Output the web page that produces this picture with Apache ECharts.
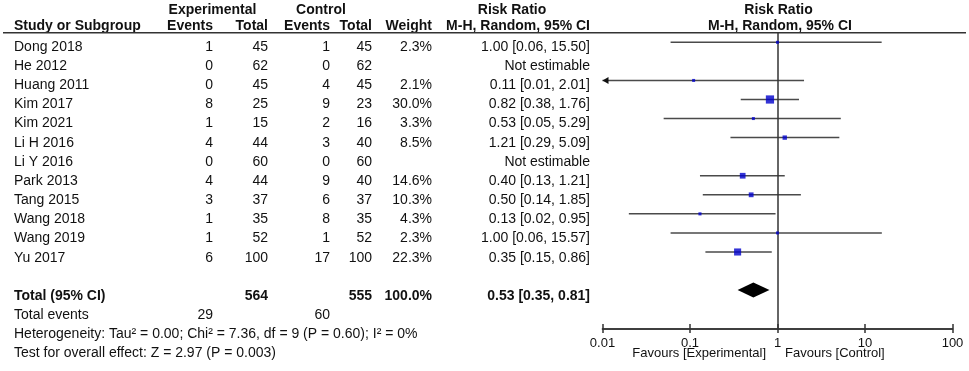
<!DOCTYPE html>
<html>
<head>
<meta charset="utf-8">
<script src="https://cdn.jsdelivr.net/npm/echarts@6/dist/echarts.min.js"></script>
<style>
html,body{margin:0;padding:0;background:#fff}
#forest{width:969px;height:371px}
</style>
</head>
<body>
<div id="forest"></div>
<script>
var studies = ['Dong 2018','He 2012','Huang 2011','Kim 2017','Kim 2021','Li H 2016','Li Y 2016','Park 2013','Tang 2015','Wang 2018','Wang 2019','Yu 2017']
var expEvents = [1,0,0,8,1,4,0,4,3,1,1,6]
var expTotal = [45,62,45,25,15,44,60,44,37,35,52,100]
var ctlEvents = [1,0,4,9,2,3,0,9,6,8,1,17]
var ctlTotal = [45,62,45,23,16,40,60,40,37,35,52,100]
var weights = [2.3,null,2.1,30.0,3.3,8.5,null,14.6,10.3,4.3,2.3,22.3]
var rr = [1.00,null,0.11,0.82,0.53,1.21,null,0.40,0.50,0.13,1.00,0.35]
var ciLow = [0.06,null,0.01,0.38,0.05,0.29,null,0.13,0.14,0.02,0.06,0.15]
var ciHigh = [15.50,null,2.01,1.76,5.29,5.09,null,1.21,1.85,0.95,15.57,0.86]

var totalExp = 564, totalCtl = 555, totalWeight = 100.0
var eventsExp = 29, eventsCtl = 60
var pooled = [0.35, 0.53, 0.81]
var heterogeneity = 'Heterogeneity: Tau\u00b2 = 0.00; Chi\u00b2 = 7.36, df = 9 (P = 0.60); I\u00b2 = 0%'
var overallTest = 'Test for overall effect: Z = 2.97 (P = 0.003)'
var tickLabels = ['0.01','0.1','1','10','100']
var favours = ['Favours [Experimental]', 'Favours [Control]']

var FONT = '"Liberation Sans", Arial, sans-serif'
var TXT = '#111'

// column anchors inside the table grid
var colStudy = 14, colExpEv = 213, colExpTot = 268, colCtlEv = 330, colCtlTot = 372, colWeight = 432, colCI = 590

function fmtCI(e, lo, hi){ return e.toFixed(2) + ' [' + lo.toFixed(2) + ', ' + hi.toFixed(2) + ']' }

var cells = []
function cell(x, r, text, align, bold, size){
    cells.push({value:[x, r], text:String(text), align:align || 'right', bold:!!bold, size:size || 14})
}

// header
cell(212.5, -1.95, 'Experimental', 'center', true)
cell(321, -1.95, 'Control', 'center', true)
cell(512, -1.95, 'Risk Ratio', 'center', true)
cell(778.5, -1.95, 'Risk Ratio', 'center', true)
cell(colStudy, -1.1, 'Study or Subgroup', 'left', true)
cell(colExpEv, -1.1, 'Events', 'right', true)
cell(colExpTot, -1.1, 'Total', 'right', true)
cell(colCtlEv, -1.1, 'Events', 'right', true)
cell(colCtlTot, -1.1, 'Total', 'right', true)
cell(colWeight, -1.1, 'Weight', 'right', true)
cell(colCI, -1.1, 'M-H, Random, 95% CI', 'right', true)
cell(780, -1.1, 'M-H, Random, 95% CI', 'center', true)

studies.forEach(function(name, i){
    cell(colStudy, i, name, 'left')
    cell(colExpEv, i, expEvents[i])
    cell(colExpTot, i, expTotal[i])
    cell(colCtlEv, i, ctlEvents[i])
    cell(colCtlTot, i, ctlTotal[i])
    if (weights[i] != null) cell(colWeight, i, weights[i].toFixed(1) + '%')
    cell(colCI, i, rr[i] == null ? 'Not estimable' : fmtCI(rr[i], ciLow[i], ciHigh[i]))
})

var rTotal = studies.length + 1
cell(colStudy, rTotal, 'Total (95% CI)', 'left', true)
cell(colExpTot, rTotal, totalExp, 'right', true)
cell(colCtlTot, rTotal, totalCtl, 'right', true)
cell(colWeight, rTotal, totalWeight.toFixed(1) + '%', 'right', true)
cell(colCI, rTotal, fmtCI(pooled[1], pooled[0], pooled[2]), 'right', true)
cell(colStudy, rTotal + 1, 'Total events', 'left')
cell(colExpEv, rTotal + 1, eventsExp)
cell(colCtlEv, rTotal + 1, eventsCtl)
cell(colStudy, rTotal + 2, heterogeneity, 'left')
cell(colStudy, rTotal + 3, overallTest, 'left')
cell(766, rTotal + 3, favours[0], 'right', false, 13)
cell(785, rTotal + 3, favours[1], 'left', false, 13)

var whiskers = [], boxes = []
studies.forEach(function(name, i){
    if (rr[i] == null) return
    whiskers.push([ciLow[i], ciHigh[i], i])
    boxes.push([rr[i], i, weights[i]])
})

var logAxis = {
    gridIndex:1, type:'log', logBase:10, min:0.01, max:100, position:'bottom',
    axisLine:{show:true, onZero:false, lineStyle:{color:'#333', width:1.5}},
    splitLine:{show:false}
}

var myChart = echarts.init(document.getElementById('forest'))
myChart.setOption({
    animation:false,
    backgroundColor:'#fff',
    grid:[
        {left:0, top:0, width:969, height:371},
        {left:602.5, top:33, width:350, height:296}
    ],
    xAxis:[
        {gridIndex:0, type:'value', min:0, max:969, show:false},
        echarts.util.merge({
            axisTick:{show:true, inside:true, length:5, lineStyle:{color:'#333', width:1.5}},
            axisLabel:{margin:8, fontSize:13, fontFamily:FONT, color:TXT,
                formatter:function(v){ return tickLabels[Math.round(Math.log10(v)) + 2] }}
        }, logAxis, true),
        echarts.util.merge({
            axisTick:{show:true, inside:false, length:4, lineStyle:{color:'#333', width:1.5}},
            axisLabel:{show:false}
        }, logAxis, true)
    ],
    yAxis:[
        {gridIndex:0, type:'value', inverse:true, min:-2.454, max:16.919, show:false},
        {gridIndex:1, type:'value', inverse:true, min:-0.488, max:15.04, show:false}
    ],
    series:[
        {
            // table text
            type:'custom', xAxisIndex:0, yAxisIndex:0, clip:false, silent:true,
            data:cells,
            renderItem:function(params, api){
                var c = cells[params.dataIndex]
                var p = api.coord(c.value)
                return {type:'text', x:p[0], y:p[1], style:{
                    text:c.text, fill:TXT, align:c.align, verticalAlign:'middle',
                    font:(c.bold ? 'bold ' : '') + c.size + 'px ' + FONT
                }}
            }
        },
        {
            // header rule
            type:'custom', xAxisIndex:0, yAxisIndex:0, clip:false, silent:true,
            data:[[3, 966, -0.75]],
            encode:{x:[0,1], y:2},
            renderItem:function(params, api){
                var a = api.coord([api.value(0), api.value(2)])
                var b = api.coord([api.value(1), api.value(2)])
                return {type:'line', shape:{x1:a[0], y1:a[1], x2:b[0], y2:b[1]}, style:{stroke:'#333', lineWidth:1.5}}
            }
        },
        {
            // confidence intervals
            type:'custom', xAxisIndex:1, yAxisIndex:1, clip:false, silent:true,
            data:whiskers,
            encode:{x:[0,1], y:2},
            renderItem:function(params, api){
                var a = api.coord([api.value(0), api.value(2)])
                var b = api.coord([api.value(1), api.value(2)])
                var kids = [{type:'line', shape:{x1:a[0], y1:a[1], x2:b[0], y2:b[1]}, style:{stroke:'#4a4a4a', lineWidth:1.5}}]
                if (api.value(0) <= 0.01) {
                    kids.push({type:'polygon', shape:{points:[[a[0], a[1]], [a[0] + 6, a[1] - 3.5], [a[0] + 6, a[1] + 3.5]]}, style:{fill:'#111'}})
                }
                return {type:'group', children:kids}
            }
        },
        {
            type:'scatter', xAxisIndex:1, yAxisIndex:1, silent:true,
            symbol:'rect',
            symbolSize:function(val){ return Math.max(3, 1.5 * Math.sqrt(val[2])) },
            itemStyle:{color:'#0000cc'},
            data:boxes,
            z:5,
            markLine:{
                silent:true, symbol:['none','none'], label:{show:false},
                lineStyle:{color:'#333', width:1.5, type:'solid'},
                data:[{xAxis:1}]
            }
        },
        {
            // pooled diamond
            type:'custom', xAxisIndex:1, yAxisIndex:1, clip:false, silent:true,
            data:[[pooled[0], pooled[1], pooled[2], rTotal]],
            encode:{x:[0,1,2], y:3},
            renderItem:function(params, api){
                var r = api.value(3)
                var lo = api.coord([api.value(0), r])
                var mid = api.coord([api.value(1), r])
                var hi = api.coord([api.value(2), r])
                return {type:'polygon', shape:{points:[[lo[0], lo[1]], [mid[0], mid[1] - 7.5], [hi[0], hi[1]], [mid[0], mid[1] + 7.5]]}, style:{fill:'#000'}}
            }
        }
    ]
}, true)
</script>
</body>
</html>
